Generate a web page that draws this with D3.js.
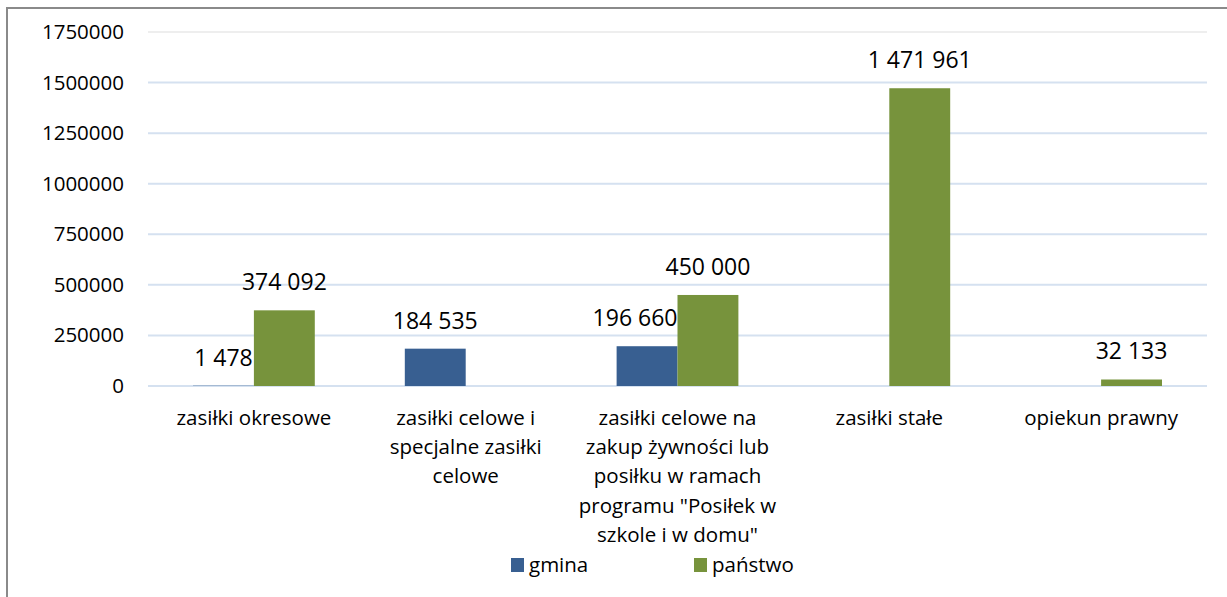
<!DOCTYPE html>
<html>
<head>
<meta charset="utf-8">
<script src="https://cdn.jsdelivr.net/npm/d3@7"></script>
<style>
  body { margin: 0; background: #fff; }
  svg text { font-family: 'Open Sans', sans-serif; fill: #000; }
</style>
</head>
<body>
<div class="chart-container"></div>
<script>
// data
const categories = [
    'zasiłki okresowe',
    'zasiłki celowe i\nspecjalne zasiłki\ncelowe',
    'zasiłki celowe na\nzakup żywności lub\nposiłku w ramach\nprogramu "Posiłek w\nszkole i w domu"',
    'zasiłki stałe',
    'opiekun prawny'
];
const seriesNames = ['gmina', 'państwo'];
const gminaValues = [1478, 184535, 196660, null, null];
const panstwoValues = [374092, null, 450000, 1471961, 32133];
const yTicks = [0, 250000, 500000, 750000, 1000000, 1250000, 1500000, 1750000];
const colors = ['#385F91', '#77933C'];

const width = 1227;
const height = 597;
const margin = { top: 32, left: 148 };
const plotRight = 1207;
const plotBottom = 386;

const svg = d3.select('.chart-container')
    .append('svg')
    .attr('width', width)
    .attr('height', height);

// outer frame (only left and top edges are visible in the picture)
svg.append('path')
    .attr('d', 'M7,600 L7,8 L1230,8')
    .attr('fill', 'none')
    .attr('stroke', '#8a8a8a')
    .attr('stroke-width', 2);

const y = d3.scaleLinear()
    .domain([0, 1750000])
    .range([plotBottom, margin.top]);

const x0 = d3.scaleBand()
    .domain(d3.range(categories.length))
    .range([margin.left, plotRight])
    .paddingInner(0.425)
    .paddingOuter(0.2125);

const x1 = d3.scaleBand()
    .domain(seriesNames)
    .range([0, x0.bandwidth()]);

// gridlines
svg.append('g')
    .attr('class', 'grid')
    .selectAll('line')
    .data(yTicks)
    .enter()
    .append('line')
    .attr('x1', margin.left)
    .attr('x2', plotRight)
    .attr('y1', d => y(d))
    .attr('y2', d => y(d))
    .attr('stroke', d => d === 1750000 ? '#eeeeee' : '#d5e1f0')
    .attr('stroke-width', 2);

// y axis labels
const yAxis = d3.axisLeft(y)
    .tickValues(yTicks)
    .tickSize(0)
    .tickPadding(24)
    .tickFormat(d3.format('d'));

const yG = svg.append('g')
    .attr('transform', `translate(${margin.left},0)`)
    .call(yAxis);
yG.select('.domain').remove();
yG.selectAll('text')
    .style('font-size', '20.5px')
    .style('font-family', 'Open Sans');

// bars
const rows = categories.map((c, i) => ({
    index: i,
    values: [
        { key: seriesNames[0], value: gminaValues[i], hasNext: panstwoValues[i] !== null },
        { key: seriesNames[1], value: panstwoValues[i], hasNext: false }
    ]
}));

const fmt = v => d3.format(',')(v).replace(/,/g, ' ');

const group = svg.append('g')
    .attr('class', 'bars')
    .selectAll('g')
    .data(rows)
    .enter()
    .append('g')
    .attr('transform', d => `translate(${x0(d.index)},0)`);

group.selectAll('rect')
    .data(d => d.values.filter(v => v.value !== null))
    .enter()
    .append('rect')
    .attr('x', d => x1(d.key))
    .attr('y', d => y(d.value))
    .attr('width', x1.bandwidth())
    .attr('height', d => y(0) - y(d.value))
    .attr('fill', d => colors[seriesNames.indexOf(d.key)]);

group.selectAll('text.value')
    .data(d => d.values.filter(v => v.value !== null))
    .enter()
    .append('text')
    .attr('class', 'value')
    .attr('x', d => x1(d.key) + x1.bandwidth() / 2)
    .attr('y', d => y(d.value) - 20)
    .attr('text-anchor', 'middle')
    .style('font-size', '23px')
    .text(d => fmt(d.value))
    .each(function (d) {
        // nudge a label left when it would run into the neighbouring bar
        if (!d.hasNext) return;
        const w = this.getComputedTextLength();
        const cx = x1(d.key) + x1.bandwidth() / 2;
        const limit = x1(seriesNames[1]);
        if (cx + w / 2 > limit) {
            d3.select(this).attr('x', limit - w / 2);
        }
    });

// category labels
const catLabel = svg.append('g')
    .attr('class', 'categories')
    .selectAll('text')
    .data(categories)
    .enter()
    .append('text')
    .attr('text-anchor', 'middle')
    .attr('x', (d, i) => x0(i) + x0.bandwidth() / 2)
    .attr('y', 425)
    .style('font-size', '20.5px');

catLabel.selectAll('tspan')
    .data(d => d.split('\n'))
    .enter()
    .append('tspan')
    .attr('x', function () { return this.parentNode.getAttribute('x'); })
    .attr('dy', (d, i) => i === 0 ? 0 : 29.2)
    .text(d => d);

// legend
const legendX = [511, 694];
const legend = svg.append('g')
    .attr('class', 'legend')
    .selectAll('g')
    .data(seriesNames)
    .enter()
    .append('g')
    .attr('transform', (d, i) => `translate(${legendX[i]},558)`);

legend.append('rect')
    .attr('width', 13)
    .attr('height', 14)
    .attr('fill', (d, i) => colors[i]);

legend.append('text')
    .attr('x', 18)
    .attr('y', 14)
    .style('font-size', '20.5px')
    .text(d => d);
</script>
</body>
</html>
